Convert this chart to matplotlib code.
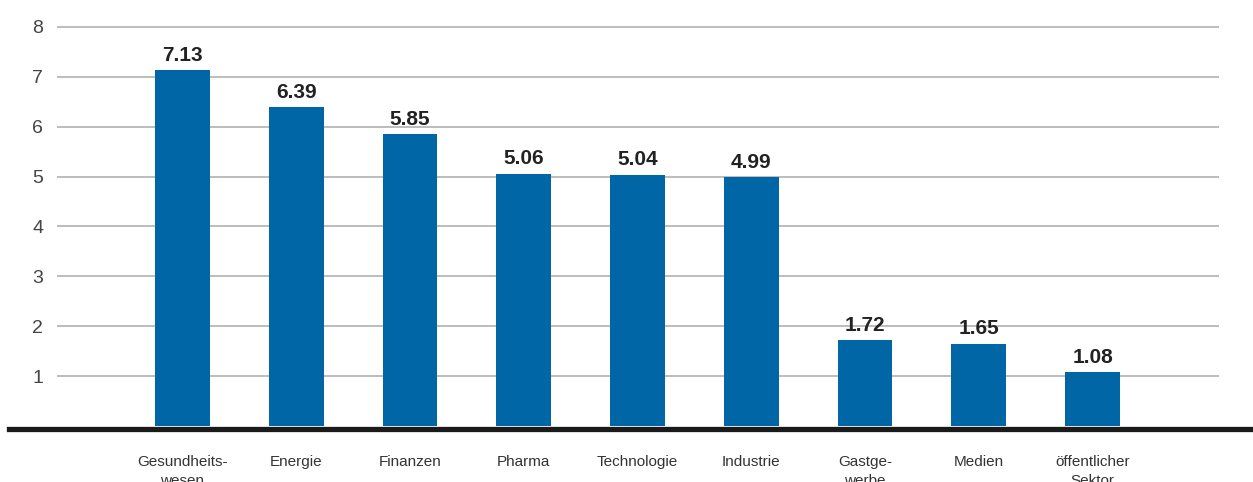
import matplotlib
matplotlib.use("Agg")
import matplotlib.pyplot as plt
from matplotlib.lines import Line2D

categories = ["Gesundheits-\nwesen", "Energie", "Finanzen", "Pharma", "Technologie",
              "Industrie", "Gastge-\nwerbe", "Medien", "öffentlicher\nSektor"]
values = [7.13, 6.39, 5.85, 5.06, 5.04, 4.99, 1.72, 1.65, 1.08]
value_labels = ["7.13", "6.39", "5.85", "5.06", "5.04", "4.99", "1.72", "1.65", "1.08"]
yticks = [1, 2, 3, 4, 5, 6, 7, 8]

plt.rcParams['font.family'] = ['Liberation Sans', 'DejaVu Sans']

W, H = 1253, 482
fig = plt.figure(figsize=(W / 100, H / 100), dpi=100)
left, right = 57 / W, 1219 / W
bottom, top = (H - 426) / H, (H - 12) / H
ax = fig.add_axes([left, bottom, right - left, top - bottom])

x = list(range(len(values)))
bars = ax.bar(x, values, width=0.48, color="#0066a6", zorder=3, clip_on=False)
for b, lab in zip(bars, value_labels):
    ax.annotate(lab, (b.get_x() + b.get_width() / 2, b.get_height()),
                xytext=(0, 4), textcoords="offset points", ha="center", va="bottom",
                fontsize=15, fontweight="bold", color="#222222")

ax.set_xlim(-1.103, 9.112)
ax.set_ylim(0, 8.3)
ax.set_yticks(yticks)
ax.set_yticklabels([str(t) for t in yticks], fontsize=14, color="#444444")
ax.yaxis.grid(True, color="#b8b8b8", linewidth=1.3, zorder=0)
ax.set_axisbelow(True)
ax.set_xticks(x)
ax.set_xticklabels(categories, fontsize=11, color="#333333", linespacing=1.45, va="top")
ax.tick_params(axis="x", length=0, pad=21)
ax.tick_params(axis="y", length=0, pad=10)
for s in ax.spines.values():
    s.set_visible(False)

fig.add_artist(Line2D([9 / W, 1.0], [(H - 428.8) / H, (H - 428.8) / H],
                      transform=fig.transFigure, color="#1a1a1a", linewidth=3.8, zorder=5))

fig.savefig("out.png", dpi=100)
